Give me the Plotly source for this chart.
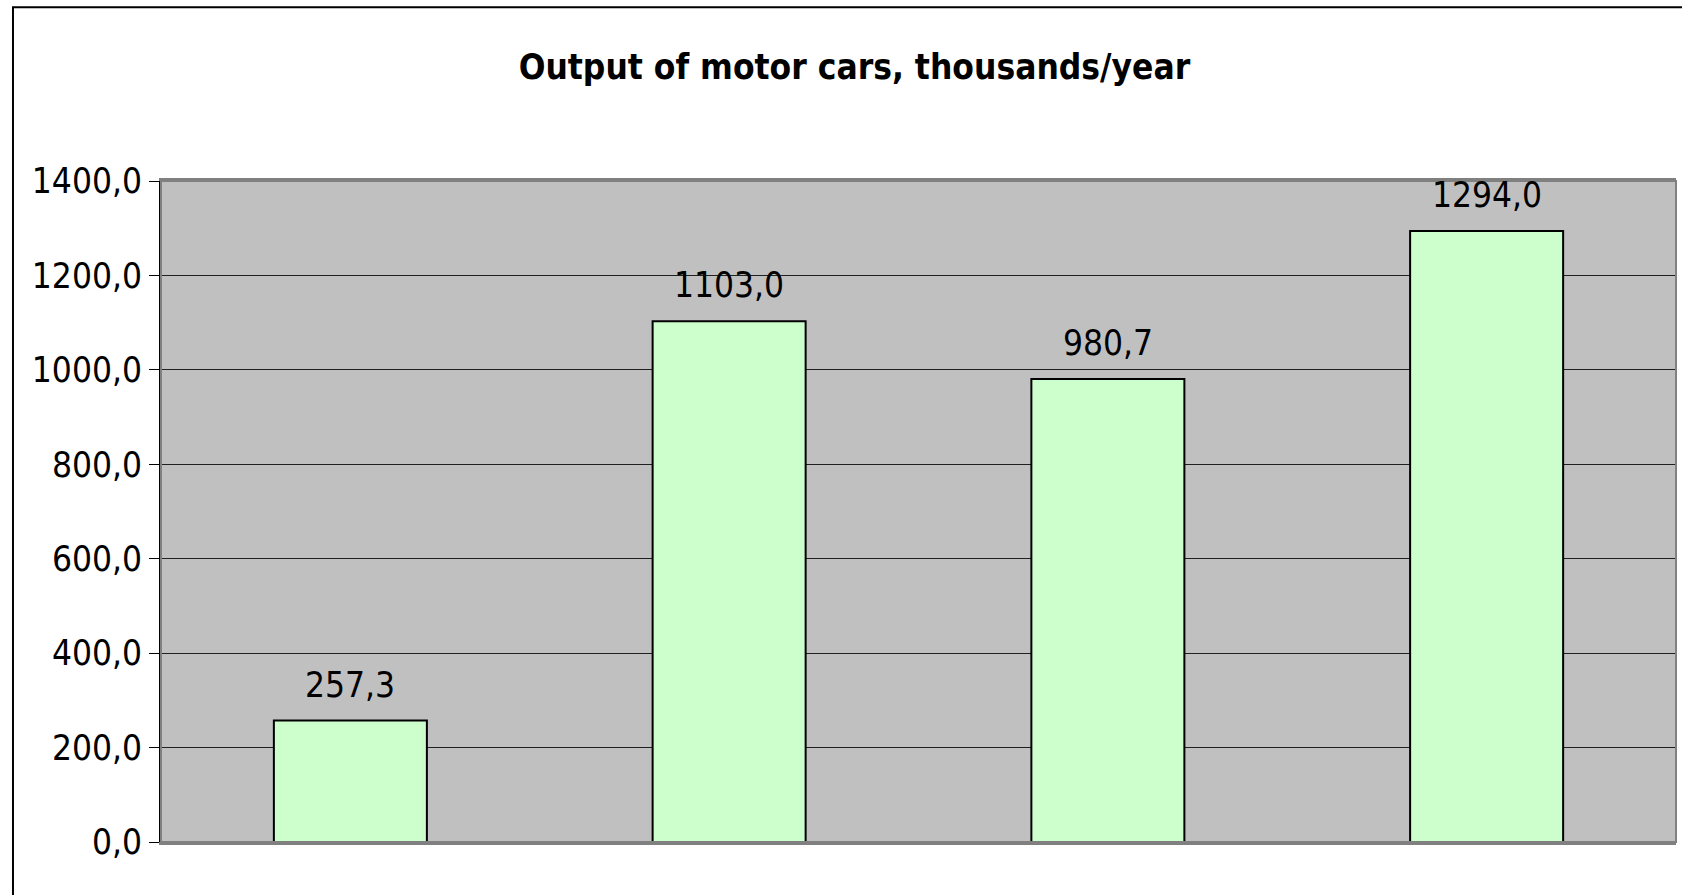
# bar chart of motor car output, rebuilt in plotly

import plotly.graph_objects as go

# data (category labels are hidden in the original)

categories = ["I", "II", "III", "IV"]
output_thousands = [257.3, 1103.0, 980.7, 1294.0]
y_ticks = [0, 200, 400, 600, 800, 1000, 1200, 1400]

title_text = "Output of motor cars, thousands/year"

font_family = "Liberation Sans Narrow, Arial Narrow, DejaVu Sans Condensed, sans-serif"

fig = go.Figure()

fig.add_trace(
    go.Bar(
        x=categories,
        y=output_thousands,
        marker=dict(color="#CCFFCC", line=dict(color="#000000", width=2)),
        width=0.404,
        hoverinfo="y",
    )
)

# value labels above each bar
for cat, val in zip(categories, output_thousands):
    fig.add_annotation(
        x=cat,
        y=val,
        text=f"{val:.1f}".replace(".", ","),
        showarrow=False,
        yanchor="bottom",
        yshift=14,
        font=dict(family=font_family, size=35, color="#000000"),
    )

# outer chart frame (runs off the right and bottom edge like the original)
fig.add_shape(
    type="rect",
    xref="paper",
    yref="paper",
    x0=-0.0977,
    x1=1.2,
    y0=-0.3,
    y1=1.263,
    line=dict(color="#000000", width=2),
    fillcolor="rgba(0,0,0,0)",
    layer="below",
)

fig.update_layout(
    width=1682,
    height=895,
    margin=dict(l=161, r=6, t=181, b=53),
    paper_bgcolor="#FFFFFF",
    plot_bgcolor="#C0C0C0",
    separators=",.",
    showlegend=False,
    title=dict(
        text="<b>" + title_text + "</b>",
        x=0.508,
        xanchor="center",
        y=0.925,
        yanchor="middle",
        font=dict(family=font_family, size=35, color="#000000"),
    ),
    font=dict(family=font_family, color="#000000"),
)

fig.update_xaxes(
    type="category",
    showticklabels=False,
    showgrid=False,
    showline=True,
    linecolor="#808080",
    linewidth=3,
    mirror=True,
    ticks="",
    range=[-0.5, 3.5],
)

fig.update_yaxes(
    range=[0, 1400],
    tickvals=y_ticks,
    tickformat=".1f",
    ticks="outside",
    ticklen=10,
    tickcolor="#000000",
    tickfont=dict(family=font_family, size=35, color="#000000"),
    showgrid=True,
    gridcolor="#202020",
    gridwidth=1,
    showline=True,
    linecolor="#000000",
    linewidth=2,
    zeroline=False,
)

# grey top/right border of the plot area
fig.add_shape(
    type="rect",
    xref="paper",
    yref="paper",
    x0=0,
    x1=1,
    y0=0,
    y1=1,
    line=dict(color="#808080", width=2),
    layer="above",
)

# drop the default page margin so the figure fills the window exactly
fig.write_html(
    "out.html",
    config={"displayModeBar": False},
    post_script="document.body.style.margin='0';document.body.style.overflow='hidden';",
)
